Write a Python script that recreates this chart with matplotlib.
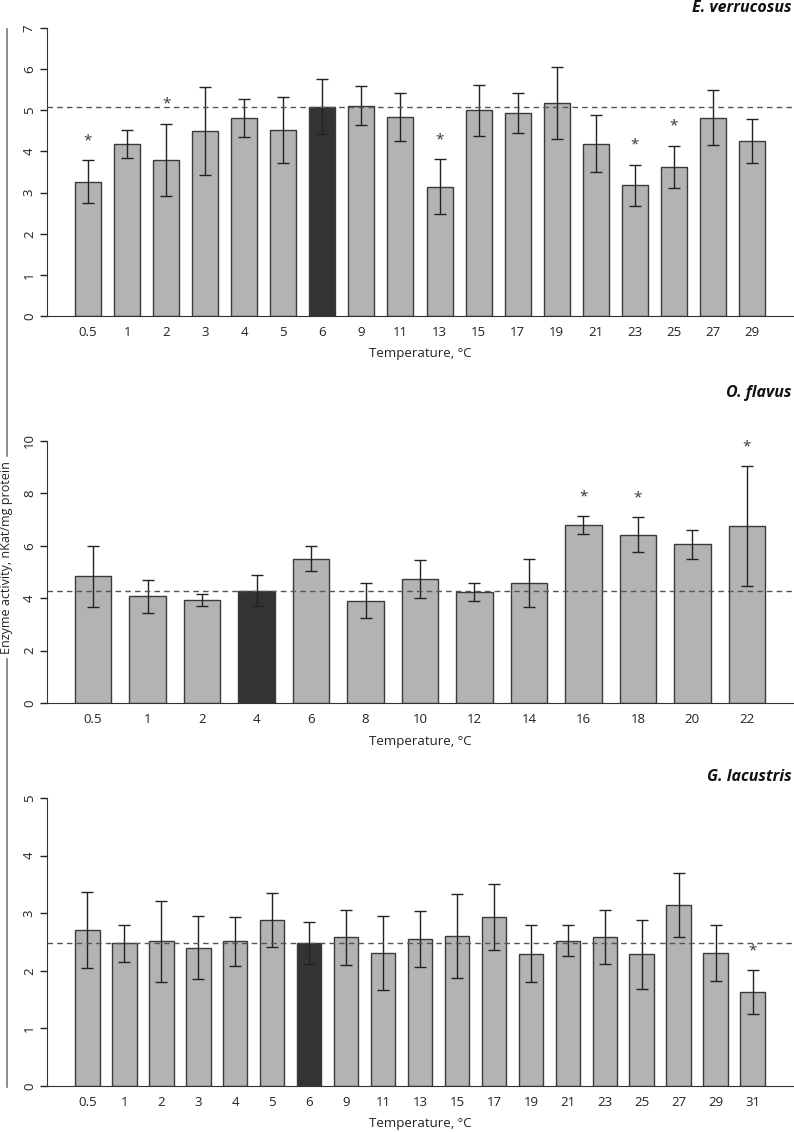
import numpy as np
import matplotlib
matplotlib.use("Agg")
from matplotlib import pyplot as plt
from matplotlib.lines import Line2D

plt.rcParams['font.family'] = ['Open Sans', 'DejaVu Sans']

# E. verrucosus
temps_ev = ['0.5', '1', '2', '3', '4', '5', '6', '9', '11', '13', '15', '17', '19', '21', '23', '25', '27', '29']
mean_ev = [3.26, 4.18, 3.79, 4.49, 4.81, 4.53, 5.09, 5.11, 4.83, 3.14, 5.00, 4.94, 5.17, 4.19, 3.18, 3.63, 4.82, 4.26]
sd_ev = [0.52, 0.35, 0.88, 1.07, 0.46, 0.80, 0.67, 0.47, 0.58, 0.67, 0.62, 0.48, 0.87, 0.69, 0.50, 0.51, 0.67, 0.54]
sig_ev = ['0.5', '2', '13', '23', '25']
ctrl_ev = '6'

# O. flavus
temps_of = ['0.5', '1', '2', '4', '6', '8', '10', '12', '14', '16', '18', '20', '22']
mean_of = [4.83, 4.08, 3.94, 4.29, 5.50, 3.90, 4.73, 4.24, 4.57, 6.79, 6.43, 6.06, 6.75]
sd_of = [1.17, 0.63, 0.23, 0.58, 0.48, 0.67, 0.71, 0.34, 0.91, 0.35, 0.66, 0.56, 2.28]
sig_of = ['16', '18', '22']
ctrl_of = '4'

# G. lacustris
temps_gl = ['0.5', '1', '2', '3', '4', '5', '6', '9', '11', '13', '15', '17', '19', '21', '23', '25', '27', '29', '31']
mean_gl = [2.70, 2.48, 2.51, 2.40, 2.51, 2.88, 2.48, 2.58, 2.31, 2.55, 2.60, 2.93, 2.30, 2.52, 2.58, 2.29, 3.14, 2.31, 1.63]
sd_gl = [0.66, 0.32, 0.70, 0.55, 0.43, 0.47, 0.37, 0.48, 0.64, 0.49, 0.73, 0.57, 0.50, 0.27, 0.47, 0.60, 0.55, 0.48, 0.38]
sig_gl = ['31']
ctrl_gl = '6'

W, H = 794, 1132
fig = plt.figure(figsize=(W / 100, H / 100), dpi=100)


def panel(top_px, bot_px, ymax, temps, means, sds, sig, ctrl, title, title_y):
    ax = fig.add_axes([47 / W, 1 - bot_px / H, (W - 47) / W, (bot_px - top_px) / H])
    n = len(temps)
    x = np.arange(n) * 1.5 + 1.0
    ppu = 690 / (1.5 * n - 0.5)
    ax.set_xlim(0.5 - 28 / ppu, 1.5 * n + 29 / ppu)
    ax.set_ylim(0, ymax)
    colors = ['#333333' if t == ctrl else '#b3b3b3' for t in temps]
    ax.bar(x, means, width=1.0, color=colors, edgecolor='#3a3a3a', linewidth=1.0, zorder=2)
    ax.errorbar(x, means, yerr=sds, fmt='none', ecolor='#222222', elinewidth=1.0,
                capsize=4.3, capthick=1.0, zorder=3)
    ref = means[temps.index(ctrl)]
    ax.axhline(ref, color='#555555', linestyle=(0, (4, 3)), linewidth=1.0, zorder=4)
    for t in sig:
        i = temps.index(t)
        ax.annotate('*', xy=(x[i], means[i] + sds[i]), xytext=(0, 14), textcoords='offset points',
                    ha='center', va='center', fontsize=11, color='#333333')
    ax.set_xticks(x)
    ax.set_xticklabels(temps)
    ax.set_yticks(np.arange(0, ymax + 1, 2 if ymax == 10 else 1))
    ax.tick_params(axis='x', length=0, pad=7, labelsize=9.5, colors='#222222')
    ax.tick_params(axis='y', length=5, width=1, pad=3, labelsize=9.5, labelrotation=90,
                   colors='#222222')
    for lab in ax.get_yticklabels():
        lab.set_va('center')
    for s in ['top', 'right']:
        ax.spines[s].set_visible(False)
    ax.spines['left'].set_color('#333333')
    ax.spines['bottom'].set_color('#333333')
    fig.text(420 / W, 1 - (bot_px + 38) / H, 'Temperature, °C', ha='center', va='center',
             fontsize=9.5, color='#222222')
    fig.text(792 / W, 1 - title_y / H, title, ha='right', va='center', fontsize=11.5,
             fontweight='bold', fontstyle='italic', color='#111111')
    return ax


panel(28, 316, 7, temps_ev, mean_ev, sd_ev, sig_ev, ctrl_ev, 'E. verrucosus', 8)
panel(441, 703, 10, temps_of, mean_of, sd_of, sig_of, ctrl_of, 'O. flavus', 393)
panel(798, 1086, 5, temps_gl, mean_gl, sd_gl, sig_gl, ctrl_gl, 'G. lacustris', 777)

# shared y label with a line broken around it
fig.text(7 / W, 1 - 558 / H, 'Enzyme activity, nKat/mg protein', rotation=90,
         ha='center', va='center', fontsize=9, color='#222222')
fig.add_artist(Line2D([7 / W, 7 / W], [1 - 29 / H, 1 - 456 / H], color='#777777', linewidth=1.2))
fig.add_artist(Line2D([7 / W, 7 / W], [1 - 659 / H, 1 - 1087 / H], color='#777777', linewidth=1.2))

fig.savefig('out.png', dpi=100)
